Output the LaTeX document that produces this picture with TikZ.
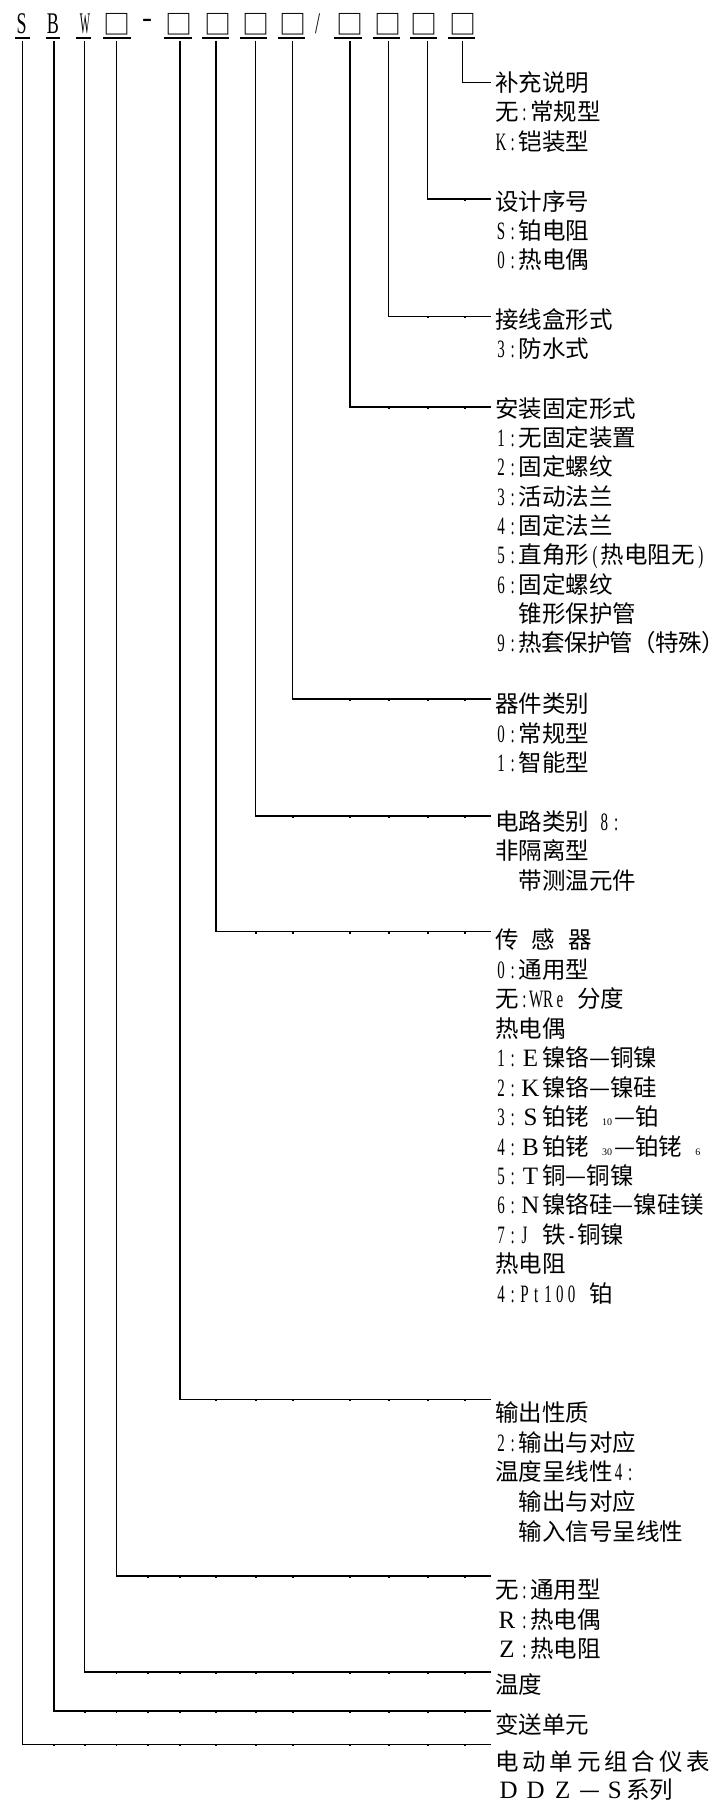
\documentclass[tikz,border=0pt]{standalone}
\usepackage{fontspec}
\usepackage{graphicx}
\setmainfont{Noto Sans CJK SC}
\newfontfamily\cjk{Noto Sans CJK SC}
\newfontfamily\nser[FakeStretch=0.6]{Liberation Serif}
\newfontfamily\wser{Liberation Serif}
\newcommand\hw[1]{\hwi#1\relax}
\def\hwi#1{\ifx#1\relax\else\makebox[11.75pt][c]{\nser\fontsize{25}{25}\selectfont#1}\expandafter\hwi\fi}
\newcommand\fw[2][23.5pt]{\makebox[#1][c]{\wser\fontsize{25}{25}\selectfont#2}}
\newcommand\sbs[1]{{\wser\fontsize{10}{10}\selectfont#1}}
\newcommand\ks{\kern3.8pt\relax}
\newcommand\nk{\kern-0.7pt\relax}
\begin{document}
\begin{tikzpicture}[x=1pt,y=-1pt,
  hd/.style={anchor=base, inner sep=0pt, font=\nser\fontsize{30}{30}\selectfont},
  bx/.style={anchor=center, inner sep=0pt, font=\cjk\fontsize{27}{27}\selectfont},
  lbl/.style={anchor=base west, inner sep=0pt, font=\cjk\fontsize{23.5}{29.4}\selectfont},
  wire/.style={line width=1.1pt},
  uline/.style={line width=1.7pt},
  tick/.style={line width=1.2pt}]
\useasboundingbox (0,0) rectangle (726,1801);
\fill[white] (0,0) rectangle (726,1801);

% ---------- header code ----------
\node[hd] (hS) at (21.7,33.3) {S};
\node[hd] (hB) at (53,33.3) {B};
\node[hd] (hW) at (85,33.3) {\scalebox{0.6}[1]{W}};
\node[bx] (q1) at (116.7,24.2) {□};
\node[hd, font=\wser\fontsize{30}{30}\selectfont] (hdash) at (147.2,27.3) {-};
\node[bx] (q2) at (179.3,24.2) {□};
\node[bx] (q3) at (217.5,24.2) {□};
\node[bx] (q4) at (255.5,24.2) {□};
\node[bx] (q5) at (293.3,24.2) {□};
\node[hd] (hsl) at (317.5,33.3) {/};
\node[bx] (q6) at (349.5,24.2) {□};
\node[bx] (q7) at (387.5,24.2) {□};
\node[bx] (q8) at (424,24.2) {□};
\node[bx] (q9) at (462.8,24.2) {□};

\foreach \a/\b in {15/30, 46/60, 76/90.7, 103.3/130.7, 164.3/191.7, 202/229.3,
  240/267.3, 278/305.3, 334/362, 373.3/400, 410/437.3, 448.3/475}
  \draw[uline] (\a,37.7) -- (\b,37.7);

% ---------- branches ----------
\foreach \i/\x/\y in {1/22.7/1744.3, 2/54/1711, 3/84.7/1672, 4/116.7/1576,
  5/180/1399.5, 6/216/931.7, 7/255.7/816, 8/292.7/699, 9/350/407,
  10/388.3/316.3, 11/427.7/199, 12/462.7/82.7}{
  \coordinate (top\i) at (\x,40.7);
  \coordinate (end\i) at (491,\y);
  \draw[wire] (top\i) |- (end\i);
  \foreach \t in {54,85,116.5,148,180,216,256,293,350,389,428,465}{
    \pgfmathtruncatemacro\ok{\t>\x+5}
    \ifnum\ok=1 \draw[tick] (\t,\y) -- ++(0,1.8); \fi
  }
}

% ---------- labels ----------
\node[lbl] (l12a) at (495,91) {补充说明};
\node[lbl] (l12b) at (495,120.5) {无\hw{:}常规型};
\node[lbl] (l12c) at (495,150) {\hw{K:}铠装型};

\node[lbl] (l11a) at (495,210) {设计序号};
\node[lbl] (l11b) at (495,239.4) {\hw{S:}铂电阻};
\node[lbl] (l11c) at (495,268.8) {\hw{0:}热电偶};

\node[lbl] (l10a) at (495,328) {接线盒形式};
\node[lbl] (l10b) at (495,357.4) {\hw{3:}防水式};

\node[lbl] (l9a) at (495,417.2) {安装固定形式};
\node[lbl] (l9b) at (495,446.5) {\hw{1:}无固定装置};
\node[lbl] (l9c) at (495,475.8) {\hw{2:}固定螺纹};
\node[lbl] (l9d) at (495,505.1) {\hw{3:}活动法兰};
\node[lbl] (l9e) at (495,534.4) {\hw{4:}固定法兰};
\node[lbl] (l9f) at (495,563.7) {\hw{5:}直角形\hw{(}热电阻无\hw{)}};
\node[lbl] (l9g) at (495,593.0) {\hw{6:}固定螺纹};
\node[lbl] (l9h) at (495,622.3) {\hspace*{23.5pt}锥形保护管};
\node[lbl] (l9i) at (495,651.6) {\hw{9:}热\nk 套\nk 保\nk 护\nk 管\nk （\nk 特\nk 殊\nk ）};

\node[lbl] (l8a) at (495,712.9) {器件类别};
\node[lbl] (l8b) at (495,742.2) {\hw{0:}常规型};
\node[lbl] (l8c) at (495,771.5) {\hw{1:}智能型};

\node[lbl] (l7a) at (495,830.6) {电路类别\hspace{0.4em}\hw{8:}};
\node[lbl] (l7b) at (495,859.9) {非隔离型};
\node[lbl] (l7c) at (495,889.2) {\hspace*{23.5pt}带测温元件};

\node[lbl] (l6a) at (495,948.9) {传\hspace{0.55em}感\hspace{0.55em}器};
\node[lbl] (l6b) at (495,978.3) {\hw{0:}通用型};
\node[lbl] (l6c) at (495,1007.8) {无\hw{:WRe}\hspace{0.5em}分度};
\node[lbl] (l6d) at (495,1037.2) {热电偶};
\node[lbl] (l6e) at (495,1066.7) {\hw{1:}\fw{E}镍铬—铜镍};
\node[lbl] (l6f) at (495,1096.1) {\hw{2:}\fw{K}镍铬—镍硅};
\node[lbl] (l6g) at (495,1125.5) {\hw{3:}\fw{S}铂铑\hspace{0.55em}\sbs{10}\hspace{0.1em}—铂};
\node[lbl] (l6h) at (495,1155.0) {\hw{4:}\fw{B}铂铑\hspace{0.55em}\sbs{30}\hspace{0.1em}—铂铑\hspace{0.55em}\sbs{6}};
\node[lbl] (l6i) at (495,1184.4) {\hw{5:}\fw{T}铜—铜镍};
\node[lbl] (l6j) at (495,1213.9) {\hw{6:}\fw{N}镍铬硅—镍硅镁};
\node[lbl] (l6k) at (495,1243.3) {\hw{7:J}\hspace{0.5em}铁\hw{-}铜镍};
\node[lbl] (l6l) at (495,1272.7) {热电阻};
\node[lbl] (l6m) at (495,1302.2) {\hw{4:Pt100}\hspace{0.5em}铂};

\node[lbl] (l5a) at (495,1421.6) {输出性质};
\node[lbl] (l5b) at (495,1451.2) {\hw{2:}输出与对应};
\node[lbl] (l5c) at (495,1480.8) {温度呈线性\hw{4:}};
\node[lbl] (l5d) at (495,1510.4) {\hspace*{23.5pt}输出与对应};
\node[lbl] (l5e) at (495,1540.0) {\hspace*{23.5pt}输入信号呈线性};

\node[lbl] (l4a) at (495,1598.9) {无\hw{:}通用型};
\node[lbl] (l4b) at (495,1628.4) {\fw{R}\hw{:}热电偶};
\node[lbl] (l4c) at (495,1657.9) {\fw{Z}\hw{:}热电阻};

\node[lbl] (l3a) at (495,1693.9) {温度};
\node[lbl] (l2a) at (495,1733.9) {变送单元};

\node[lbl] (l1a) at (495,1770.6) {电\ks 动\ks 单\ks 元\ks 组\ks 合\ks 仪\ks 表};
\node[lbl] (l1b) at (495,1798.2) {\fw[27pt]{D}\fw[27pt]{D}\fw[27pt]{Z}\makebox[27pt][c]{—}\fw[23pt]{S}系列};
\end{tikzpicture}
\end{document}
